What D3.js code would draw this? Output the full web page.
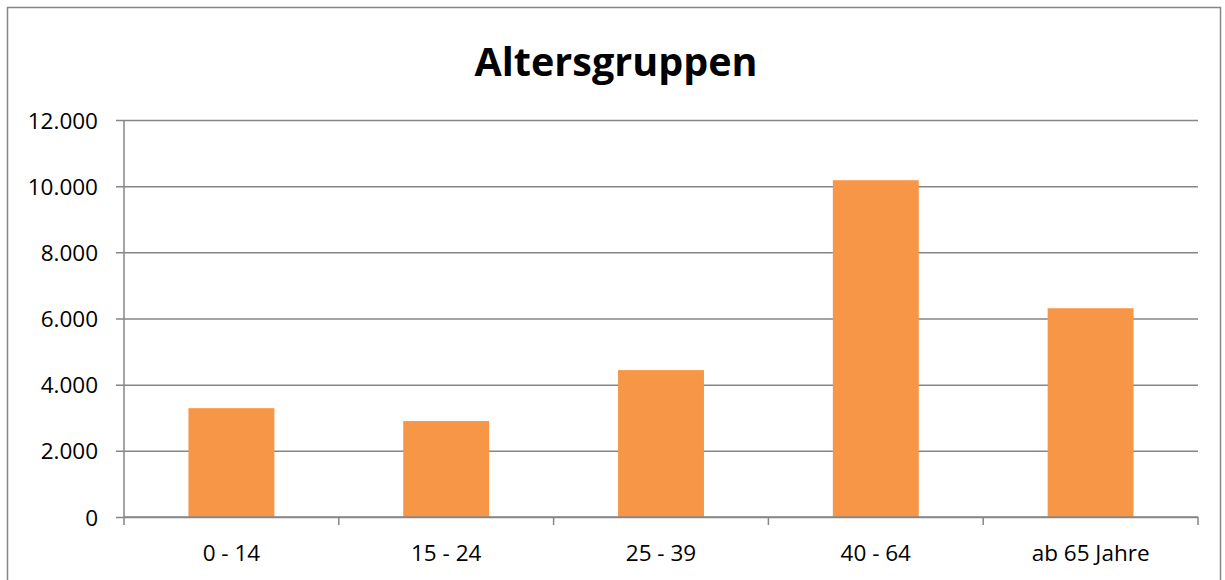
<!DOCTYPE html>
<html>
<head>
<meta charset="utf-8">
<script src="https://cdn.jsdelivr.net/npm/d3@7"></script>
<style>
  body { margin: 0; background: #fff; }
  svg { display: block; }
  text { font-family: "Open Sans", sans-serif; fill: #000; }
</style>
</head>
<body>
<div id="chart"></div>
<script>
// values
var categories = ["0 - 14", "15 - 24", "25 - 39", "40 - 64", "ab 65 Jahre"];
var counts = [3290, 2900, 4440, 10180, 6310];
var yTicks = [0, 2000, 4000, 6000, 8000, 10000, 12000];
var title = "Altersgruppen";

var width = 1225, height = 580;
var plot = {left: 124, right: 1198, top: 120, bottom: 517};

var svg = d3.select("#chart").append("svg")
    .attr("width", width).attr("height", height);

// chart frame
svg.append("rect")
    .attr("x", 7.5).attr("y", 7.5)
    .attr("width", 1213).attr("height", 600)
    .attr("fill", "none").attr("stroke", "#868686").attr("stroke-width", 1.5);

var x = d3.scaleBand().domain(categories)
    .range([plot.left, plot.right]).paddingInner(0.6).paddingOuter(0.3);
var y = d3.scaleLinear().domain([0, 12000]).range([plot.bottom, plot.top]);

var fmt = function (d) { return d3.format(",")(d).replace(/,/g, "."); };

// gridlines + y labels
var yAxis = d3.axisLeft(y).tickValues(yTicks).tickFormat(fmt)
    .tickSize(-(plot.right - plot.left + 8));
var gy = svg.append("g").attr("transform", "translate(" + (plot.left - 8) + ",0)").call(yAxis);
gy.select(".domain").remove();
gy.selectAll(".tick line").attr("stroke", "#868686").attr("stroke-width", 1.5)
    .attr("x1", 0).attr("x2", plot.right - plot.left + 8);
gy.selectAll(".tick text").style("font-size", "22.5px").attr("x", -18).attr("dy", "0.36em");

// vertical axis line
svg.append("line")
    .attr("x1", plot.left).attr("x2", plot.left)
    .attr("y1", plot.top).attr("y2", plot.bottom)
    .attr("stroke", "#868686").attr("stroke-width", 1.5);

// bars
svg.selectAll("rect.bar").data(counts).enter().append("rect")
    .attr("class", "bar")
    .attr("x", function (d, i) { return x(categories[i]); })
    .attr("width", x.bandwidth())
    .attr("y", function (d) { return y(d); })
    .attr("height", function (d) { return y(0) - y(d); })
    .attr("fill", "#F79646");

// x axis line and category ticks
svg.append("line")
    .attr("x1", plot.left).attr("x2", plot.right)
    .attr("y1", plot.bottom).attr("y2", plot.bottom)
    .attr("stroke", "#868686").attr("stroke-width", 1.5);
var bounds = d3.range(categories.length + 1).map(function (i) { return plot.left + i * (plot.right - plot.left) / categories.length; });
svg.selectAll("line.xtick").data(bounds).enter().append("line")
    .attr("class", "xtick")
    .attr("x1", function (d) { return d; }).attr("x2", function (d) { return d; })
    .attr("y1", plot.bottom).attr("y2", plot.bottom + 8)
    .attr("stroke", "#868686").attr("stroke-width", 1.5);

svg.selectAll("text.xlab").data(categories).enter().append("text")
    .attr("class", "xlab")
    .attr("x", function (d) { return x(d) + x.bandwidth() / 2; })
    .attr("y", 561)
    .attr("text-anchor", "middle")
    .style("font-size", "22.5px")
    .text(function (d) { return d; });

// title
svg.append("text")
    .attr("x", 616).attr("y", 76)
    .attr("text-anchor", "middle")
    .style("font-size", "39.5px").style("font-weight", "bold")
    .text(title);
</script>
</body>
</html>
